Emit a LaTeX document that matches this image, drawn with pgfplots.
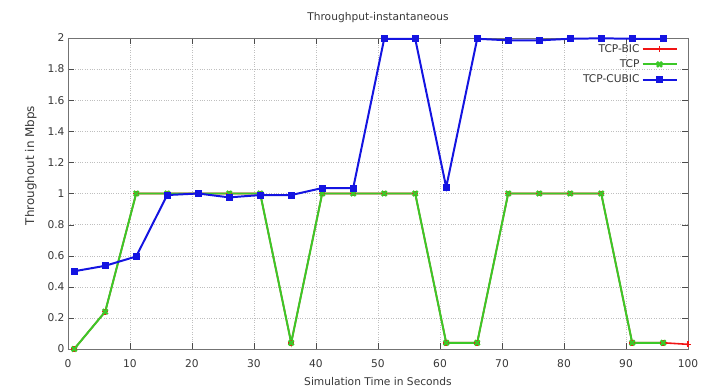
\documentclass[border=0pt]{standalone}
\usepackage{pgfplots}
\pgfplotsset{compat=1.18}
\usepackage{fontspec}
\setmainfont{DejaVu Sans}
\definecolor{gpred}{RGB}{240,20,20}
\definecolor{gpgreen}{RGB}{60,200,40}
\definecolor{gpblue}{RGB}{20,20,225}
\definecolor{txt}{RGB}{55,55,55}
\begin{document}
\begin{tikzpicture}
\begin{axis}[
  scale only axis,
  width=620bp, height=311bp,
  xmin=0, xmax=100, ymin=0, ymax=2,
  xtick={0,10,...,100},
  ytick={0,0.2,...,2},
  yticklabel style={/pgf/number format/fixed},
  /pgf/number format/assume math mode=true,
  tick align=inside,
  tick pos=both,
  major tick length=6bp,
  tick style={black!70},
  axis line style={black!55},
  xmajorgrids, ymajorgrids,
  major grid style={black!25, dotted},
  font=\fontsize{10.7}{12}\selectfont,
  tick label style={font=\fontsize{10.7}{12}\selectfont, text=txt},
  xticklabel style={yshift=-7bp},
  title={Throughput-instantaneous},
  title style={at={(0.5,1)}, anchor=south, yshift=6bp, text=txt, font=\fontsize{10.7}{12}\selectfont},
  xlabel={Simulation Time in Seconds},
  ylabel={Throughout in Mbps},
  xlabel style={yshift=-3bp, text=txt},
  ylabel style={at={(ticklabel cs:0.59)}, yshift=4bp, text=txt, font=\fontsize{12}{14}\selectfont},
  legend plot pos=right,
  legend cell align=right,
  legend image code/.code={\draw[mark repeat=2, mark phase=2] plot coordinates {(0bp,0bp) (17bp,0bp) (34bp,0bp)};},
  legend style={draw=none, fill=none, at={(0.985,0.99)}, anchor=north east,
    font=\fontsize{10.7}{12}\selectfont, text=txt, row sep=2bp, inner sep=1bp},
]
\coordinate (ll) at (rel axis cs:0,0);
\coordinate (ur) at (rel axis cs:1,1);
\addplot[color=gpred, line width=1.6pt, mark=+, mark size=3pt, mark options={solid}] coordinates {
(1,0) (6,0.24) (11,1.0) (16,1.0) (21,1.0) (26,1.0) (31,1.0) (36,0.04) (41,1.0) (46,1.0)
(51,1.0) (56,1.0) (61,0.04) (66,0.04) (71,1.0) (76,1.0) (81,1.0) (86,1.0) (91,0.04) (96,0.04) (100,0.03)
};
\addlegendentry{TCP-BIC}
\addplot[color=gpgreen, line width=2pt, mark=x, mark size=3.5pt, mark options={solid, line width=2.4pt}] coordinates {
(1,0) (6,0.24) (11,1.0) (16,1.0) (21,1.0) (26,1.0) (31,1.0) (36,0.04) (41,1.0) (46,1.0)
(51,1.0) (56,1.0) (61,0.04) (66,0.04) (71,1.0) (76,1.0) (81,1.0) (86,1.0) (91,0.04) (96,0.04)
};
\addlegendentry{TCP}
\addplot[color=gpblue, line width=2pt, mark=square*, mark size=2.5pt, mark options={solid}] coordinates {
(1,0.50) (6,0.535) (11,0.595) (16,0.99) (21,1.0) (26,0.975) (31,0.99) (36,0.99) (41,1.035) (46,1.035)
(51,1.995) (56,1.995) (61,1.04) (66,1.995) (71,1.985) (76,1.985) (81,1.995) (86,1.998) (91,1.995) (96,1.995)
};
\addlegendentry{TCP-CUBIC}
\end{axis}
\pgfresetboundingbox
\path[use as bounding box] ([shift={(-68bp,-43bp)}]ll) rectangle ([shift={(27bp,38bp)}]ur);
\end{tikzpicture}
\end{document}
